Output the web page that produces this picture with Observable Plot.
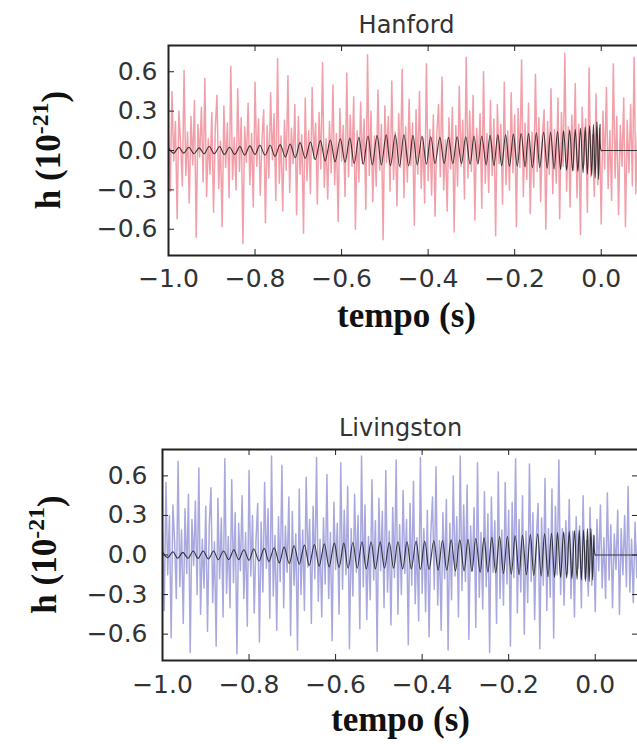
<!DOCTYPE html>
<html><head><meta charset="utf-8">
<script src="https://cdn.jsdelivr.net/npm/d3@7"></script>
<script src="https://cdn.jsdelivr.net/npm/@observablehq/plot@0.6"></script>
<style>
html,body{margin:0;padding:0;background:#fff;overflow:hidden;width:637px;height:744px}
#wrap{position:relative;width:637px;height:744px;overflow:hidden}
.panel{position:absolute;left:0;width:650px}
.panel svg{max-width:none !important}
</style></head><body><div id="wrap"></div>
<script>
const xTicks = [-1.0, -0.8, -0.6, -0.4, -0.2, 0.0];
const yTicks = [-0.6, -0.3, 0.0, 0.3, 0.6];
const titles = ["Hanford", "Livingston"];
const xLabel = "tempo (s)";
const tStart = -1.0, dt = 0.004;

const hanfordNoise = [
0.12,-0.31,0.45,-0.08,0.22,-0.52,0.30,0.05,-0.27,0.61,-0.19,0.14,-0.40,0.26,-0.11,0.38,-0.66,0.20,-0.05,0.33,-0.24,0.55,-0.35,
0.09,-0.18,0.29,-0.47,0.16,0.42,-0.29,0.07,-0.58,0.34,-0.13,0.21,-0.36,0.64,-0.22,0.10,-0.30,0.47,-0.16,0.25,-0.71,0.18,-0.09,
0.36,-0.26,0.13,-0.43,0.52,-0.12,0.24,-0.34,0.08,0.31,-0.55,0.19,-0.21,0.44,-0.07,0.28,-0.38,0.70,-0.25,0.11,-0.46,0.23,-0.15,
0.57,-0.32,0.17,-0.10,0.35,-0.49,0.26,-0.18,0.12,-0.63,0.40,-0.23,0.15,-0.33,0.48,-0.06,0.21,-0.41,0.29,-0.14,0.67,-0.28,0.09,
-0.37,0.22,-0.17,0.50,-0.26,0.13,-0.54,0.32,-0.08,0.19,-0.35,0.59,-0.20,0.27,-0.12,0.41,-0.60,0.15,-0.24,0.37,-0.10,0.24,-0.45,
0.73,-0.19,0.30,-0.39,0.11,-0.27,0.46,-0.15,0.20,-0.68,0.34,-0.09,0.26,-0.31,0.53,-0.22,0.14,-0.42,0.28,-0.13,0.62,-0.36,0.18,
-0.24,0.39,-0.11,0.21,-0.57,0.31,-0.18,0.45,-0.29,0.10,-0.40,0.66,-0.23,0.16,-0.34,0.27,-0.50,0.12,0.35,-0.20,0.56,-0.30,0.08,
-0.46,0.25,-0.14,0.33,-0.62,0.19,-0.27,0.49,-0.12,0.23,-0.37,0.71,-0.21,0.30,-0.16,0.42,-0.53,0.17,-0.09,0.28,-0.44,0.60,-0.25,
0.13,-0.32,0.38,-0.19,0.24,-0.65,0.35,-0.10,0.20,-0.41,0.52,-0.26,0.15,-0.30,0.44,-0.17,0.27,-0.58,0.32,-0.13,0.69,-0.35,0.21,
-0.22,0.36,-0.48,0.14,-0.28,0.58,-0.16,0.25,-0.39,0.11,0.31,-0.60,0.22,-0.18,0.47,-0.33,0.16,-0.25,0.40,-0.52,0.29,-0.12,0.74,
-0.31,0.18,-0.43,0.27,-0.15,0.51,-0.36,0.20,-0.64,0.33,-0.11,0.24,-0.47,0.63,-0.20,0.12,-0.35,0.43,-0.26,0.17,-0.56,0.30,-0.14,
0.48,-0.29,0.15,-0.38,0.66,-0.21,0.26,-0.49,0.19,-0.12,0.40,-0.58,0.23,-0.17,0.35,-0.27,0.71,-0.33,0.14,-0.44,0.28,-0.19,0.37];

const livingstonNoise = [
0.18,-0.42,0.55,-0.15,0.30,-0.63,0.38,0.10,-0.33,0.71,-0.24,0.19,-0.52,0.35,-0.14,0.46,-0.74,0.27,-0.08,0.41,-0.30,0.66,-0.45,
0.12,-0.25,0.37,-0.58,0.22,0.51,-0.36,0.10,-0.69,0.43,-0.18,0.28,-0.47,0.73,-0.29,0.14,-0.40,0.57,-0.21,0.32,-0.75,0.24,-0.12,
0.45,-0.33,0.17,-0.54,0.64,-0.16,0.30,-0.44,0.11,0.39,-0.66,0.25,-0.28,0.55,-0.10,0.35,-0.48,0.75,-0.31,0.15,-0.57,0.29,-0.20,
0.68,-0.40,0.22,-0.13,0.44,-0.61,0.33,-0.23,0.16,-0.72,0.50,-0.30,0.19,-0.42,0.59,-0.09,0.27,-0.52,0.37,-0.18,0.74,-0.35,0.12,
-0.47,0.28,-0.22,0.61,-0.33,0.17,-0.65,0.40,-0.11,0.24,-0.45,0.70,-0.26,0.34,-0.15,0.52,-0.71,0.20,-0.31,0.46,-0.13,0.30,-0.56,
0.75,-0.24,0.38,-0.49,0.14,-0.34,0.57,-0.19,0.26,-0.73,0.43,-0.12,0.33,-0.40,0.64,-0.28,0.18,-0.53,0.36,-0.17,0.72,-0.45,0.23,
-0.30,0.49,-0.14,0.27,-0.68,0.39,-0.23,0.56,-0.37,0.13,-0.50,0.74,-0.29,0.20,-0.43,0.34,-0.62,0.16,0.44,-0.26,0.67,-0.38,0.11,
-0.57,0.32,-0.18,0.42,-0.72,0.24,-0.34,0.60,-0.16,0.29,-0.47,0.75,-0.27,0.38,-0.20,0.53,-0.64,0.22,-0.12,0.36,-0.55,0.70,-0.32,
0.17,-0.41,0.48,-0.24,0.31,-0.74,0.44,-0.13,0.26,-0.52,0.63,-0.33,0.19,-0.38,0.55,-0.22,0.34,-0.69,0.40,-0.17,0.73,-0.44,0.27,
-0.28,0.45,-0.60,0.18,-0.36,0.69,-0.20,0.32,-0.49,0.14,0.39,-0.71,0.28,-0.23,0.58,-0.42,0.20,-0.32,0.50,-0.63,0.37,-0.15,0.72,
-0.30,0.20,-0.38,0.26,-0.14,0.42,-0.33,0.18,-0.47,0.29,-0.10,0.22,-0.40,0.45,-0.18,0.11,-0.31,0.36,-0.23,0.15,-0.43,0.27,-0.12,
0.38,-0.25,0.13,-0.33,0.47,-0.19,0.23,-0.40,0.16,-0.11,0.34,-0.45,0.20,-0.15,0.30,-0.24,0.52,-0.28,0.12,-0.36,0.25,-0.17,0.31];

// chirp extrema times (s)
const chirpTimes = [
-1.000,-0.988,-0.976,-0.965,-0.953,-0.941,-0.929,-0.918,-0.906,-0.894,-0.882,-0.871,-0.859,-0.847,-0.835,-0.824,-0.812,-0.800,-0.789,-0.777,
-0.765,-0.754,-0.742,-0.730,-0.719,-0.707,-0.696,-0.684,-0.672,-0.661,-0.649,-0.638,-0.626,-0.615,-0.603,
-0.592,-0.581,-0.571,-0.560,-0.550,-0.539,-0.529,-0.518,-0.508,-0.497,-0.487,-0.476,-0.466,-0.456,-0.445,-0.435,-0.425,-0.414,-0.404,-0.394,
-0.384,-0.373,-0.363,-0.353,-0.343,-0.333,-0.323,-0.313,-0.303,
-0.294,-0.285,-0.276,-0.266,-0.257,-0.248,-0.239,-0.230,-0.221,-0.212,-0.203,-0.194,-0.185,-0.176,-0.168,-0.159,-0.150,-0.142,-0.133,-0.125,
-0.117,-0.109,-0.101,
-0.094,-0.087,-0.080,-0.073,-0.066,-0.060,-0.054,-0.048,-0.042,-0.037,-0.032,-0.027,-0.022,-0.018,-0.014,-0.010,-0.006,-0.003,
0.000,0.004,0.100];

const hanfordChirp = [
0.02,-0.02,0.025,-0.02,0.025,-0.025,0.02,-0.025,0.03,-0.025,0.03,-0.03,0.025,-0.03,0.03,-0.035,0.035,-0.03,0.04,-0.035,
0.04,-0.045,0.045,-0.05,0.05,-0.055,0.06,-0.06,0.065,-0.07,0.075,-0.08,0.08,-0.085,0.09,
-0.09,0.095,-0.10,0.10,-0.105,0.11,-0.11,0.115,-0.11,0.12,-0.115,0.12,-0.12,0.12,-0.115,0.115,-0.11,0.11,-0.105,0.105,
-0.10,0.10,-0.10,0.10,-0.10,0.105,-0.10,0.105,-0.105,
0.11,-0.105,0.11,-0.11,0.115,-0.115,0.12,-0.115,0.12,-0.12,0.125,-0.12,0.13,-0.125,0.13,-0.13,0.135,-0.13,0.14,-0.135,
0.14,-0.14,0.145,
-0.145,0.15,-0.15,0.155,-0.155,0.16,-0.16,0.17,-0.17,0.18,-0.18,0.19,-0.19,0.20,-0.21,0.22,-0.22,0.20,
0.0,0.0,0.0];

const livingstonChirp = [
0.025,-0.02,0.025,-0.025,0.02,-0.025,0.03,-0.025,0.03,-0.03,0.03,-0.035,0.03,-0.035,0.04,-0.035,0.04,-0.04,0.045,-0.045,
0.05,-0.05,0.055,-0.06,0.06,-0.065,0.07,-0.07,0.075,-0.08,0.08,-0.085,0.085,-0.09,0.09,
-0.095,0.09,-0.10,0.095,-0.10,0.10,-0.105,0.10,-0.105,0.10,-0.10,0.095,-0.10,0.10,-0.105,0.10,-0.105,0.105,-0.11,0.105,
-0.11,0.11,-0.115,0.11,-0.115,0.115,-0.12,0.115,-0.12,
0.12,-0.125,0.125,-0.13,0.13,-0.13,0.135,-0.135,0.14,-0.14,0.14,-0.145,0.145,-0.15,0.15,-0.15,0.155,-0.155,0.16,-0.16,
0.16,-0.165,0.165,
-0.17,0.17,-0.17,0.175,-0.175,0.18,-0.18,0.185,-0.185,0.19,-0.19,0.19,-0.20,0.20,-0.20,0.20,-0.19,0.15,
0.0,0.0,0.0];

const fmt = d3.format(".1f");

function panel({title, noise, chirp, color, opacity, top, ml, mr, mt, plotH, h, titleDy, labelDy, xPad, yPad, yLabelX}) {
  const w = 650;
  const plotW = w - ml - mr;
  const noiseData = noise.map((v, i) => ({t: tStart + i * dt, v}));
  const chirpData = chirpTimes.map((t, i) => ({t, v: chirp[i]}));
  const chart = Plot.plot({
    width: w, height: h,
    marginLeft: ml, marginRight: mr, marginTop: mt, marginBottom: h - mt - plotH,
    style: {fontFamily: "DejaVu Sans", fontSize: "25px", color: "#333", background: "transparent", overflow: "visible"},
    x: {domain: [-1.0, 0.1], ticks: xTicks, tickFormat: fmt, tickSize: 0, tickPadding: xPad, label: null},
    y: {domain: [-0.8, 0.8], ticks: yTicks, tickFormat: fmt, tickSize: 0, tickPadding: yPad, label: null},
    marks: [
      Plot.line(noiseData, {x: "t", y: "v", stroke: color, strokeOpacity: opacity, strokeWidth: 1.5, clip: true}),
      Plot.line(chirpData, {x: "t", y: "v", stroke: "#1a1a1a", strokeOpacity: 0.85, strokeWidth: 1.1, curve: "catmull-rom", clip: true}),
      Plot.ruleX(xTicks, {insetTop: plotH - 6, stroke: "#222"}),
      Plot.ruleX(xTicks, {insetBottom: plotH - 6, stroke: "#222"}),
      Plot.ruleY(yTicks, {insetRight: plotW - 6, stroke: "#222"}),
      Plot.ruleY(yTicks, {insetLeft: plotW - 6, stroke: "#222"}),
      Plot.frame({stroke: "#222", strokeWidth: 2}),
      Plot.text([title], {frameAnchor: "top", dy: titleDy, lineAnchor: "bottom", fontSize: 24, fill: "#333", fontFamily: "DejaVu Sans"}),
      Plot.text([xLabel], {frameAnchor: "bottom", dy: labelDy, lineAnchor: "bottom", fontSize: 35, fontWeight: "bold", fill: "#111", fontFamily: "Liberation Serif"})
    ]
  });
  const svg = d3.select(chart);
  const t = svg.append("text")
    .attr("transform", `translate(${yLabelX},${mt + plotH / 2}) rotate(-90)`)
    .attr("text-anchor", "middle")
    .attr("font-family", "Liberation Serif")
    .attr("font-weight", "bold")
    .attr("font-size", 35)
    .attr("fill", "#111");
  t.append("tspan").text("h (10");
  t.append("tspan").attr("dy", "-0.5em").attr("font-size", "0.68em").text("-21");
  t.append("tspan").attr("dy", "0.5em").text(")");
  const div = document.createElement("div");
  div.className = "panel";
  div.style.top = top + "px";
  div.appendChild(chart);
  document.getElementById("wrap").appendChild(div);
}

panel({title: titles[0], noise: hanfordNoise, chirp: hanfordChirp, color: "#e85a6a", opacity: 0.58,
  top: 0, ml: 168, mr: 6, mt: 45, plotH: 210, h: 340, titleDy: -13, labelDy: 71, xPad: 14, yPad: 11, yLabelX: 60});
panel({title: titles[1], noise: livingstonNoise, chirp: livingstonChirp, color: "#6a6ac8", opacity: 0.58,
  top: 400, ml: 162, mr: 12, mt: 49, plotH: 211, h: 344, titleDy: -14, labelDy: 70, xPad: 15, yPad: 15, yLabelX: 56});
</script></body></html>
